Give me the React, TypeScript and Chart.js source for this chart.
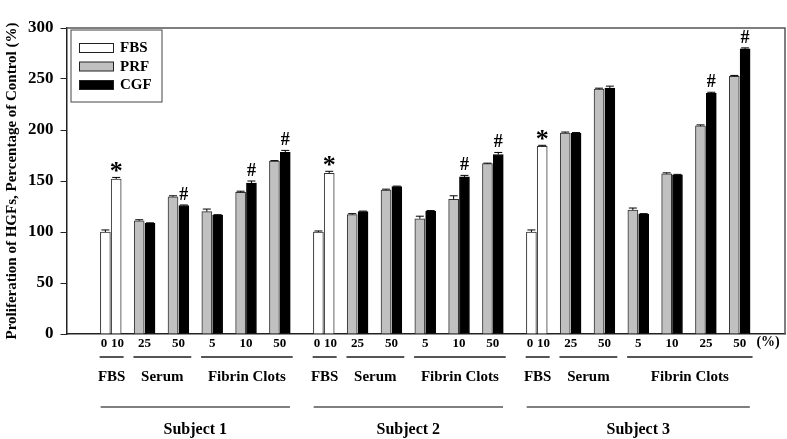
import React, { useEffect, useRef } from "react";
import { Chart, registerables } from "chart.js";

Chart.register(...registerables);

// ---------- data ----------
const subjects = ["Subject 1", "Subject 2", "Subject 3"];
const groupNames = ["FBS", "Serum", "Fibrin Clots"];
const seriesNames = ["FBS", "PRF", "CGF"];
const unitLabel = "(%)";
const yTitle = "Proliferation of HGFs, Percentage of Control (%)";

const fbsConc = ["0", "10"];
const serumConc = ["25", "50"];
const clotConc = [
  ["5", "10", "50"],
  ["5", "10", "50"],
  ["5", "10", "25", "50"],
];

const fbsMean = [[100, 152], [100, 157.5], [100, 184]];
const fbsErr = [[2, 1.5], [1, 2], [2, 1]];
const fbsMark = [["", "*"], ["", "*"], ["", "*"]];

const prfSerumMean = [[111, 134.5], [117, 141], [197, 240]];
const prfSerumErr = [[1, 1], [1, 1], [1, 1]];
const cgfSerumMean = [[108.5, 126], [120, 144.5], [197, 241]];
const cgfSerumErr = [[0.5, 0.5], [0.5, 0.5], [0.5, 2]];
const cgfSerumMark = [["", "#"], ["", ""], ["", ""]];

const prfClotMean = [[120, 139, 169.5], [113, 132, 167], [121.5, 157, 204, 252.5]];
const prfClotErr = [[2.5, 1, 0.5], [2.5, 3.5, 0.5], [2, 1, 1, 1]];
const cgfClotMean = [[116.5, 148, 178], [120.5, 154, 176], [117.5, 156, 236, 279.5]];
const cgfClotErr = [[0.5, 2, 2], [0.5, 1.5, 2], [0.5, 0.5, 1, 1]];
const cgfClotMark = [["", "#", "#"], ["", "#", "#"], ["", "", "#", "#"]];

// ---------- layout constants ----------
const SUBJECT_GAP = 0.3;
const PAIR_OFF = 0.16;
const FBS_LABEL_OFF = 0.2;
const SERIF = "'Liberation Serif', 'Times New Roman', serif";

type Pt = { x: number; y: number };
type LabelItem = { text: string; x: number };
type Slot = { pos: number; subject: number; group: number; labels: LabelItem[] };

function build() {
  const fbs: Pt[] = [], fbsE: number[] = [], fbsM: string[] = [];
  const prf: Pt[] = [], prfE: number[] = [], prfM: string[] = [];
  const cgf: Pt[] = [], cgfE: number[] = [], cgfM: string[] = [];
  const slots: Slot[] = [];
  let pos = 0;
  subjects.forEach((_, s) => {
    const fbsLabels: LabelItem[] = [];
    fbsConc.forEach((c, k) => {
      const sign = k === 0 ? -1 : 1;
      fbs.push({ x: pos + sign * PAIR_OFF, y: fbsMean[s][k] });
      fbsE.push(fbsErr[s][k]);
      fbsM.push(fbsMark[s][k]);
      fbsLabels.push({ text: c, x: pos + sign * FBS_LABEL_OFF });
    });
    slots.push({ pos, subject: s, group: 0, labels: fbsLabels });
    pos += 1;
    serumConc.forEach((c, k) => {
      prf.push({ x: pos - PAIR_OFF, y: prfSerumMean[s][k] });
      prfE.push(prfSerumErr[s][k]);
      prfM.push("");
      cgf.push({ x: pos + PAIR_OFF, y: cgfSerumMean[s][k] });
      cgfE.push(cgfSerumErr[s][k]);
      cgfM.push(cgfSerumMark[s][k]);
      slots.push({ pos, subject: s, group: 1, labels: [{ text: c, x: pos }] });
      pos += 1;
    });
    clotConc[s].forEach((c, k) => {
      prf.push({ x: pos - PAIR_OFF, y: prfClotMean[s][k] });
      prfE.push(prfClotErr[s][k]);
      prfM.push("");
      cgf.push({ x: pos + PAIR_OFF, y: cgfClotMean[s][k] });
      cgfE.push(cgfClotErr[s][k]);
      cgfM.push(cgfClotMark[s][k]);
      slots.push({ pos, subject: s, group: 2, labels: [{ text: c, x: pos }] });
      pos += 1;
    });
    pos += SUBJECT_GAP;
  });
  return { fbs, fbsE, fbsM, prf, prfE, prfM, cgf, cgfE, cgfM, slots };
}

export default function App() {
  const ref = useRef<HTMLCanvasElement | null>(null);

  useEffect(() => {
    const canvas = ref.current;
    if (!canvas) return;
    const d = build();
    const lastPos = Math.max(...d.slots.map((s) => s.pos));

    const overlay = {
      id: "overlay",
      afterDatasetsDraw(chart: any) {
        const ctx = chart.ctx;
        const y = chart.scales.y;
        ctx.save();
        chart.data.datasets.forEach((ds: any, i: number) => {
          const meta = chart.getDatasetMeta(i);
          meta.data.forEach((el: any, j: number) => {
            const v = ds.data[j].y;
            const top = y.getPixelForValue(v + ds.errors[j]);
            ctx.strokeStyle = "#000";
            ctx.lineWidth = 1;
            ctx.beginPath();
            ctx.moveTo(el.x, el.y);
            ctx.lineTo(el.x, top);
            ctx.moveTo(el.x - 4, top);
            ctx.lineTo(el.x + 4, top);
            ctx.stroke();
            const m = ds.marks[j];
            if (m) {
              ctx.fillStyle = "#000";
              ctx.textAlign = "center";
              ctx.textBaseline = "alphabetic";
              if (m === "*") {
                ctx.font = `bold 26px ${SERIF}`;
                ctx.fillText(m, el.x, top + 2);
              } else {
                ctx.font = `bold 18px ${SERIF}`;
                ctx.fillText(m, el.x, top - 5);
              }
            }
          });
        });
        ctx.restore();
      },
      afterDraw(chart: any) {
        const ctx = chart.ctx;
        const a = chart.chartArea;
        const x = chart.scales.x;
        ctx.save();
        // frame
        ctx.strokeStyle = "#555";
        ctx.lineWidth = 1.5;
        ctx.beginPath();
        ctx.moveTo(a.left, a.top);
        ctx.lineTo(a.right, a.top);
        ctx.lineTo(a.right, a.bottom);
        ctx.stroke();

        // legend
        const lx = a.left + 4.5, ly = a.top + 2;
        ctx.lineWidth = 1;
        ctx.strokeStyle = "#444";
        ctx.strokeRect(lx, ly, 91, 72);
        chart.data.datasets.forEach((ds: any, i: number) => {
          const sy = ly + 13.5 + i * 18.5;
          ctx.fillStyle = ds.backgroundColor;
          ctx.fillRect(lx + 8.5, sy, 34, 9);
          ctx.strokeStyle = "#222";
          ctx.strokeRect(lx + 8.5, sy, 34, 9);
          ctx.fillStyle = "#000";
          ctx.font = `bold 15px ${SERIF}`;
          ctx.textAlign = "left";
          ctx.textBaseline = "middle";
          ctx.fillText(ds.label, lx + 49, sy + 5);
        });

        // x labels
        const base = a.bottom;
        ctx.fillStyle = "#000";
        ctx.textAlign = "center";
        ctx.textBaseline = "middle";
        ctx.font = `bold 13px ${SERIF}`;
        d.slots.forEach((s) => {
          s.labels.forEach((l) => ctx.fillText(l.text, x.getPixelForValue(l.x), base + 10));
        });
        ctx.font = `bold 14px ${SERIF}`;
        ctx.fillText(unitLabel, x.getPixelForValue(lastPos + 0.84), base + 8);

        // group underlines & labels
        ctx.strokeStyle = "#555";
        ctx.lineWidth = 2;
        subjects.forEach((subj, si) => {
          const ss = d.slots.filter((s) => s.subject === si);
          groupNames.forEach((g, gi) => {
            const gs = ss.filter((s) => s.group === gi);
            const x0 = x.getPixelForValue(gs[0].pos - 0.33);
            const x1 = x.getPixelForValue(gs[gs.length - 1].pos + 0.38);
            ctx.beginPath();
            ctx.moveTo(x0, base + 23);
            ctx.lineTo(x1, base + 23);
            ctx.stroke();
            ctx.font = `bold 15px ${SERIF}`;
            ctx.fillText(g, (x0 + x1) / 2, base + 43);
          });
          const s0 = x.getPixelForValue(ss[0].pos - 0.3);
          const s1 = x.getPixelForValue(ss[ss.length - 1].pos + 0.3);
          ctx.lineWidth = 1.5;
          ctx.beginPath();
          ctx.moveTo(s0, base + 73);
          ctx.lineTo(s1, base + 73);
          ctx.stroke();
          ctx.lineWidth = 2;
          ctx.font = `bold 16px ${SERIF}`;
          ctx.fillText(subj, (s0 + s1) / 2, base + 96);
        });
        ctx.restore();
      },
    };

    const chart = new Chart(canvas, {
      type: "bar",
      data: {
        datasets: [
          {
            label: seriesNames[0],
            data: d.fbs,
            backgroundColor: "#ffffff",
            borderColor: "#333",
            borderWidth: 1,
            errors: d.fbsE,
            marks: d.fbsM,
          } as any,
          {
            label: seriesNames[1],
            data: d.prf,
            backgroundColor: "#c0c0c0",
            borderColor: "#333",
            borderWidth: 1,
            errors: d.prfE,
            marks: d.prfM,
          } as any,
          {
            label: seriesNames[2],
            data: d.cgf,
            backgroundColor: "#000000",
            borderColor: "#000",
            borderWidth: 1,
            errors: d.cgfE,
            marks: d.cgfM,
          } as any,
        ],
      },
      options: {
        animation: false,
        responsive: false,
        maintainAspectRatio: false,
        devicePixelRatio: 1,
        datasets: { bar: { grouped: false, barThickness: 10 } } as any,
        layout: { padding: { top: 28, right: 2, left: 0, bottom: 0 } },
        plugins: { legend: { display: false }, tooltip: { enabled: false } },
        scales: {
          x: {
            type: "linear",
            min: -1.31,
            max: lastPos + 1.34,
            offset: false,
            ticks: { display: false },
            grid: { display: false },
            border: { display: true, color: "#222", width: 1.5 },
            afterFit: (s: any) => {
              s.height = 105;
            },
          },
          y: {
            min: 0,
            max: 300,
            ticks: {
              stepSize: 50,
              color: "#000",
              padding: 7,
              font: { family: SERIF, size: 17, weight: "bold" },
            },
            grid: { display: true, drawOnChartArea: false, drawTicks: true, tickLength: 6, color: "#222" },
            border: { display: true, color: "#222", width: 1.5 },
            title: {
              display: true,
              text: yTitle,
              color: "#000",
              font: { family: SERIF, size: 15, weight: "bold" },
              padding: { top: 3, bottom: 0 },
            },
            afterFit: (s: any) => {
              s.width = 66.5;
            },
          },
        } as any,
      },
      plugins: [overlay],
    });
    return () => chart.destroy();
  }, []);

  return (
    <div style={{ position: "fixed", left: 0, top: 0, width: 787, height: 439, background: "#fff" }}>
      <canvas ref={ref} width={787} height={439} style={{ display: "block", width: 787, height: 439 }} />
    </div>
  );
}
